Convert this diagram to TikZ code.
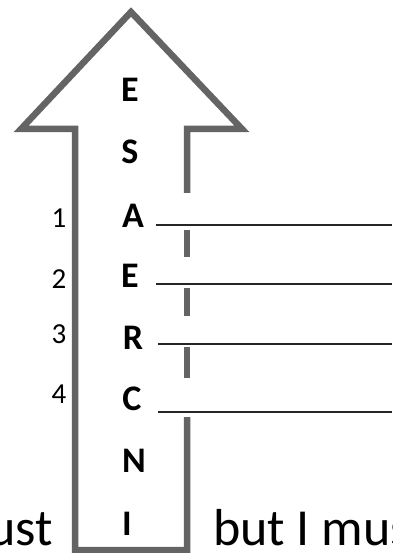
\documentclass[tikz,border=0pt]{standalone}
\usepackage{fontspec}
\setmainfont{Carlito}
\begin{document}
\begin{tikzpicture}[x=1pt,y=-1pt,
  arrowline/.style={draw=arrowgray,line width=6.5pt,line join=miter},
  blank/.style={draw=black!85,line width=1.2pt},
  letter/.style={anchor=base,inner sep=0pt,font=\fontsize{36}{36}\selectfont\bfseries},
  num/.style={anchor=base,inner sep=0pt,font=\fontsize{29}{29}\selectfont},
  big/.style={anchor=base,inner sep=0pt,font=\fontsize{52}{52}\selectfont}]
\definecolor{arrowgray}{RGB}{100,100,100}
\useasboundingbox (0,0) rectangle (392,553);
\clip (0,0) rectangle (392,553);
\fill[white] (0,0) rectangle (392,553);
% arrow outline
\draw[arrowline] (187,193) -- (187,129) -- (242,129) -- (131,12) -- (21,129) -- (75,129) -- (75,550) -- (187,550) -- (187,417);
\draw[arrowline] (187,230) -- (187,257);
\draw[arrowline] (187,288) -- (187,316);
\draw[arrowline] (187,347) -- (187,378);
% letters
\node[letter] (l1) at (130,102) {E};
\node[letter] (l2) at (130,164) {S};
\node[letter] (l3) at (133,227) {A};
\node[letter] (l4) at (130,287) {E};
\node[letter] (l5) at (133,349) {R};
\node[letter] (l6) at (132,410) {C};
\node[letter] (l7) at (134,472) {N};
\node[letter] (l8) at (127,535) {I};
% numbers
\node[num] (n1) at (59,227) {1};
\node[num] (n2) at (59,288) {2};
\node[num] (n3) at (59,343) {3};
\node[num] (n4) at (59,403) {4};
% blanks
\coordinate (b1s) at (156,225); \coordinate (b1e) at (392,225);
\coordinate (b2s) at (156,284); \coordinate (b2e) at (392,284);
\coordinate (b3s) at (158,344); \coordinate (b3e) at (392,344);
\coordinate (b4s) at (158,412); \coordinate (b4e) at (392,412);
\draw[blank] (b1s) -- (b1e);
\draw[blank] (b2s) -- (b2e);
\draw[blank] (b3s) -- (b3e);
\draw[blank] (b4s) -- (b4e);
% bottom text
\node[big,anchor=base east] (tl) at (53,545) {ust};
\node[big,anchor=base west] (tr) at (213,545) {but I mus};
\end{tikzpicture}
\end{document}
